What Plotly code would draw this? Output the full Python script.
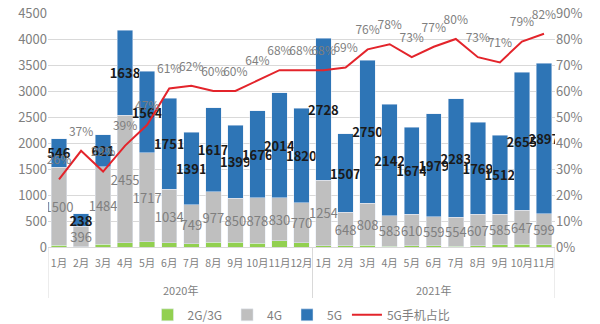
import plotly.graph_objects as go

years = ["2020年"] * 12 + ["2021年"] * 11
months = [f"{i}月" for i in range(1, 13)] + [f"{i}月" for i in range(1, 12)]
year_names = ["2020年", "2021年"]

g23 = [36, 4, 56, 79, 97, 79, 67, 87, 88, 69, 119, 82,
       28, 20, 29, 17, 21, 21, 16, 20, 48, 56, 40]
g4 = [1500, 396, 1484, 2455, 1717, 1034, 749, 977, 850, 878, 830, 770,
      1254, 648, 808, 583, 610, 559, 554, 607, 585, 647, 599]
g5 = [546, 238, 621, 1638, 1564, 1751, 1391, 1617, 1399, 1676, 2014, 1820,
      2728, 1507, 2750, 2142, 1674, 1979, 2283, 1769, 1512, 2655, 2897]
share = [26, 37, 29, 39, 47, 61, 62, 60, 60, 64, 68, 68,
         68, 69, 76, 78, 73, 77, 80, 73, 71, 79, 82]

FONT = "Noto Sans CJK SC"
GRAY = "#808080"
x = [y + m for y, m in zip(years, months)]

fig = go.Figure()
fig.add_trace(go.Bar(x=x, y=g23, name="2G/3G", marker_color="#92D050"))
fig.add_trace(go.Bar(x=x, y=g4, name="4G", marker_color="#BFBFBF",
                     text=g4, textposition="inside", insidetextanchor="middle",
                     textangle=0, constraintext="none",
                     textfont=dict(family=FONT, size=13, color="#7F7F7F")))
fig.add_trace(go.Bar(x=x, y=g5, name="5G", marker_color="#2E75B6",
                     text=g5, textposition="inside", insidetextanchor="middle",
                     textangle=0, constraintext="none",
                     textfont=dict(family=FONT, size=13, color="#1a1a1a", weight="bold")))
fig.add_trace(go.Scatter(x=x, y=share, name="5G手机占比", yaxis="y2", mode="lines",
                         line=dict(color="#E3242B", width=2)))
fig.add_trace(go.Scatter(x=x, y=share, yaxis="y2", mode="markers+text",
                         marker=dict(size=18, color="rgba(0,0,0,0)"),
                         text=[f"{v}%" for v in share], textposition="top center",
                         textfont=dict(family=FONT, size=12, color="#7F7F7F"),
                         showlegend=False, hoverinfo="skip", cliponaxis=False))

# year group labels and dividers, positioned from the category indices
n = len(x)
bounds = [-0.5]
for i in range(1, n):
    if years[i] != years[i - 1]:
        bounds.append(i - 0.5)
bounds.append(n - 0.5)
for k, yn in enumerate(year_names):
    fig.add_annotation(x=(bounds[k] + bounds[k + 1]) / 2, xref="x", y=-0.184, yref="paper",
                       text=yn, showarrow=False, yanchor="middle",
                       font=dict(family=FONT, size=11, color=GRAY))
for b in bounds:
    fig.add_shape(type="line", x0=b, x1=b, xref="x", y0=0, y1=-0.218, yref="paper",
                  line=dict(color="#D9D9D9", width=1))

fig.update_layout(
    width=600, height=324,
    margin=dict(l=48, r=45, t=13, b=77, autoexpand=False),
    barmode="stack", bargap=0.3,
    plot_bgcolor="white", paper_bgcolor="white",
    font=dict(family=FONT, color=GRAY),
    showlegend=True,
    legend=dict(orientation="h", x=0.5, xanchor="center", y=-0.29, yanchor="middle",
                font=dict(size=12, color=GRAY), traceorder="normal"),
    xaxis=dict(type="category", showline=True, linecolor="#D9D9D9",
               range=[bounds[0], bounds[-1]],
               tickmode="array", tickvals=x, ticktext=months,
               tickfont=dict(size=10.5, color=GRAY), tickangle=0,
               ticks="", automargin=False, ticklabelstandoff=6),
    yaxis=dict(range=[0, 4500], dtick=500, gridcolor="#D9D9D9", zeroline=False,
               tickfont=dict(size=13, color=GRAY), automargin=False),
    yaxis2=dict(range=[0, 90], dtick=10, overlaying="y", side="right", showgrid=False,
                ticksuffix="%", zeroline=False, tickfont=dict(size=13, color=GRAY),
                automargin=False),
)

fig.write_html("out.html")
